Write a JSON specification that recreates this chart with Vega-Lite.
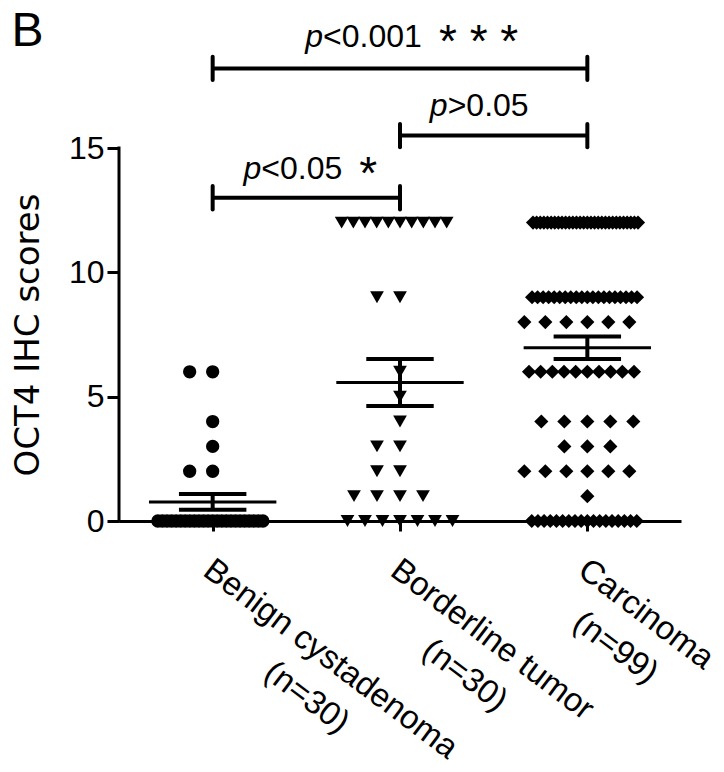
{
  "$schema": "https://vega.github.io/schema/vega-lite/v6.json",
  "width": 562,
  "height": 373,
  "padding": {"left": 11, "top": 8, "right": 0, "bottom": 0},
  "background": "white",
  "config": {
    "view": {"stroke": null},
    "axis": {"domainColor": "black", "tickColor": "black", "labelColor": "black", "titleColor": "black", "labelFont": "Liberation Sans", "titleFont": "Liberation Sans", "grid": false}
  },
  "title": {"text": "B", "anchor": "start", "frame": "bounds", "fontSize": 48, "font": "Liberation Sans", "fontWeight": "normal", "baseline": "top", "offset": -36, "color": "black"},
  "datasets": {
    "brackets": [
      {"id": "a", "from": "Benign", "to": "Carcinoma", "level": 18.2, "pv": "p", "cmp": "<0.001", "stars": "*\u00a0*\u00a0*"},
      {"id": "b", "from": "Borderline", "to": "Carcinoma", "level": 15.5, "pv": "p", "cmp": ">0.05", "stars": ""},
      {"id": "c", "from": "Benign", "to": "Borderline", "level": 13.0, "pv": "p", "cmp": "<0.05", "stars": "*"}
    ],
    "scores": [
      {"group": "Benign", "score": 6}, {"group": "Benign", "score": 6}, {"group": "Benign", "score": 4}, {"group": "Benign", "score": 3},
      {"group": "Benign", "score": 2}, {"group": "Benign", "score": 2},
      {"group": "Benign", "score": 0}, {"group": "Benign", "score": 0}, {"group": "Benign", "score": 0}, {"group": "Benign", "score": 0},
      {"group": "Benign", "score": 0}, {"group": "Benign", "score": 0}, {"group": "Benign", "score": 0}, {"group": "Benign", "score": 0},
      {"group": "Benign", "score": 0}, {"group": "Benign", "score": 0}, {"group": "Benign", "score": 0}, {"group": "Benign", "score": 0},
      {"group": "Benign", "score": 0}, {"group": "Benign", "score": 0}, {"group": "Benign", "score": 0}, {"group": "Benign", "score": 0},
      {"group": "Benign", "score": 0}, {"group": "Benign", "score": 0}, {"group": "Benign", "score": 0}, {"group": "Benign", "score": 0},
      {"group": "Benign", "score": 0}, {"group": "Benign", "score": 0}, {"group": "Benign", "score": 0}, {"group": "Benign", "score": 0},
      {"group": "Borderline", "score": 12}, {"group": "Borderline", "score": 12}, {"group": "Borderline", "score": 12}, {"group": "Borderline", "score": 12},
      {"group": "Borderline", "score": 12}, {"group": "Borderline", "score": 12}, {"group": "Borderline", "score": 12}, {"group": "Borderline", "score": 12},
      {"group": "Borderline", "score": 12}, {"group": "Borderline", "score": 12},
      {"group": "Borderline", "score": 9}, {"group": "Borderline", "score": 9},
      {"group": "Borderline", "score": 6}, {"group": "Borderline", "score": 5}, {"group": "Borderline", "score": 4},
      {"group": "Borderline", "score": 3}, {"group": "Borderline", "score": 3},
      {"group": "Borderline", "score": 2}, {"group": "Borderline", "score": 2},
      {"group": "Borderline", "score": 1}, {"group": "Borderline", "score": 1}, {"group": "Borderline", "score": 1}, {"group": "Borderline", "score": 1},
      {"group": "Borderline", "score": 0}, {"group": "Borderline", "score": 0}, {"group": "Borderline", "score": 0}, {"group": "Borderline", "score": 0},
      {"group": "Borderline", "score": 0}, {"group": "Borderline", "score": 0}, {"group": "Borderline", "score": 0},
      {"group": "Carcinoma", "score": 12}, {"group": "Carcinoma", "score": 12}, {"group": "Carcinoma", "score": 12}, {"group": "Carcinoma", "score": 12},
      {"group": "Carcinoma", "score": 12}, {"group": "Carcinoma", "score": 12}, {"group": "Carcinoma", "score": 12}, {"group": "Carcinoma", "score": 12},
      {"group": "Carcinoma", "score": 12}, {"group": "Carcinoma", "score": 12}, {"group": "Carcinoma", "score": 12}, {"group": "Carcinoma", "score": 12},
      {"group": "Carcinoma", "score": 12}, {"group": "Carcinoma", "score": 12}, {"group": "Carcinoma", "score": 12}, {"group": "Carcinoma", "score": 12},
      {"group": "Carcinoma", "score": 12}, {"group": "Carcinoma", "score": 12}, {"group": "Carcinoma", "score": 12}, {"group": "Carcinoma", "score": 12},
      {"group": "Carcinoma", "score": 12}, {"group": "Carcinoma", "score": 12}, {"group": "Carcinoma", "score": 12}, {"group": "Carcinoma", "score": 12},
      {"group": "Carcinoma", "score": 12}, {"group": "Carcinoma", "score": 12}, {"group": "Carcinoma", "score": 12}, {"group": "Carcinoma", "score": 12},
      {"group": "Carcinoma", "score": 12}, {"group": "Carcinoma", "score": 12},
      {"group": "Carcinoma", "score": 9}, {"group": "Carcinoma", "score": 9}, {"group": "Carcinoma", "score": 9}, {"group": "Carcinoma", "score": 9},
      {"group": "Carcinoma", "score": 9}, {"group": "Carcinoma", "score": 9}, {"group": "Carcinoma", "score": 9}, {"group": "Carcinoma", "score": 9},
      {"group": "Carcinoma", "score": 9}, {"group": "Carcinoma", "score": 9}, {"group": "Carcinoma", "score": 9}, {"group": "Carcinoma", "score": 9},
      {"group": "Carcinoma", "score": 9}, {"group": "Carcinoma", "score": 9}, {"group": "Carcinoma", "score": 9}, {"group": "Carcinoma", "score": 9},
      {"group": "Carcinoma", "score": 9}, {"group": "Carcinoma", "score": 9}, {"group": "Carcinoma", "score": 9}, {"group": "Carcinoma", "score": 9},
      {"group": "Carcinoma", "score": 8}, {"group": "Carcinoma", "score": 8}, {"group": "Carcinoma", "score": 8}, {"group": "Carcinoma", "score": 8},
      {"group": "Carcinoma", "score": 8}, {"group": "Carcinoma", "score": 8},
      {"group": "Carcinoma", "score": 6}, {"group": "Carcinoma", "score": 6}, {"group": "Carcinoma", "score": 6}, {"group": "Carcinoma", "score": 6},
      {"group": "Carcinoma", "score": 6}, {"group": "Carcinoma", "score": 6}, {"group": "Carcinoma", "score": 6}, {"group": "Carcinoma", "score": 6},
      {"group": "Carcinoma", "score": 6}, {"group": "Carcinoma", "score": 6},
      {"group": "Carcinoma", "score": 4}, {"group": "Carcinoma", "score": 4}, {"group": "Carcinoma", "score": 4}, {"group": "Carcinoma", "score": 4},
      {"group": "Carcinoma", "score": 4},
      {"group": "Carcinoma", "score": 3}, {"group": "Carcinoma", "score": 3}, {"group": "Carcinoma", "score": 3},
      {"group": "Carcinoma", "score": 2}, {"group": "Carcinoma", "score": 2}, {"group": "Carcinoma", "score": 2}, {"group": "Carcinoma", "score": 2},
      {"group": "Carcinoma", "score": 2}, {"group": "Carcinoma", "score": 2},
      {"group": "Carcinoma", "score": 1},
      {"group": "Carcinoma", "score": 0}, {"group": "Carcinoma", "score": 0}, {"group": "Carcinoma", "score": 0}, {"group": "Carcinoma", "score": 0},
      {"group": "Carcinoma", "score": 0}, {"group": "Carcinoma", "score": 0}, {"group": "Carcinoma", "score": 0}, {"group": "Carcinoma", "score": 0},
      {"group": "Carcinoma", "score": 0}, {"group": "Carcinoma", "score": 0}, {"group": "Carcinoma", "score": 0}, {"group": "Carcinoma", "score": 0},
      {"group": "Carcinoma", "score": 0}, {"group": "Carcinoma", "score": 0}, {"group": "Carcinoma", "score": 0}, {"group": "Carcinoma", "score": 0},
      {"group": "Carcinoma", "score": 0}, {"group": "Carcinoma", "score": 0}
    ]
  },
  "layer": [
    {
      "data": {"name": "scores"},
      "transform": [
        {"calculate": "indexof(['Benign','Borderline','Carcinoma'], datum.group) + 1", "as": "gi"},
        {"window": [{"op": "row_number", "as": "rn"}], "groupby": ["group", "score"]},
        {"joinaggregate": [{"op": "count", "as": "n"}], "groupby": ["group", "score"]},
        {"calculate": "datum.rn - 1", "as": "k"},
        {"calculate": "datum.k == 0 ? 0 : (datum.k % 2 == 1 ? -(datum.k + 1) / 2 : datum.k / 2)", "as": "slot"},
        {"calculate": "datum.gi + datum.slot * min(23, 105 / max(datum.n - 1, 1)) / 187.33", "as": "xpos"}
      ],
      "mark": {"type": "point", "filled": true, "opacity": 1, "color": "black", "strokeWidth": 0},
      "encoding": {
        "x": {"field": "xpos", "type": "quantitative", "scale": {"domain": [0.5, 3.5], "nice": false, "zero": false},
          "axis": {"title": null, "values": [1, 2, 3], "orient": "bottom", "domainWidth": 3, "tickSize": 10, "tickWidth": 3,
            "labelAngle": 37, "labelAlign": "left", "labelBaseline": "top", "labelFontSize": 33, "labelLineHeight": 45, "labelLimit": 1000,
            "labelPadding": 22, "labelOffset": 4, "labelOverlap": false, "labelBound": false, "labelFlush": false,
            "labelExpr": "datum.value == 1 ? ['Benign cystadenoma', '\u200b\u00a0\u00a0\u00a0\u00a0\u00a0\u00a0\u00a0\u00a0\u00a0\u00a0\u00a0\u00a0(n=30)'] : datum.value == 2 ? ['Borderline tumor', '\u200b\u00a0\u00a0\u00a0\u00a0\u00a0\u00a0\u00a0\u00a0(n=30)'] : datum.value == 3 ? ['Carcinoma', '\u200b\u00a0\u00a0\u00a0(n=99)'] : ''"}},
        "y": {"field": "score", "type": "quantitative", "scale": {"domain": [0, 15], "nice": false},
          "axis": {"title": "OCT4 IHC scores", "titleFont": "DejaVu Sans", "titleFontSize": 34, "titleFontWeight": "normal", "titlePadding": 23,
            "values": [0, 5, 10, 15], "domain": false, "tickSize": 12, "tickWidth": 3, "labelFontSize": 32, "labelPadding": 3}},
        "shape": {"field": "group", "type": "nominal", "scale": {"domain": ["Benign", "Borderline", "Carcinoma"], "range": ["circle", "triangle-down", "diamond"]}, "legend": null},
        "size": {"field": "group", "type": "ordinal", "scale": {"domain": ["Benign", "Borderline", "Carcinoma"], "range": [177, 200, 290]}, "legend": null}
      }
    },
    {
      "data": {"values": [{"axis": "y"}]},
      "mark": {"type": "rule", "strokeWidth": 3, "color": "black", "strokeCap": "square"},
      "encoding": {"x": {"datum": 0.5, "type": "quantitative"}, "y": {"datum": 0, "type": "quantitative"}, "y2": {"datum": 15}}
    },
    {
      "data": {"name": "scores"},
      "transform": [
        {"aggregate": [{"op": "mean", "field": "score", "as": "m"}], "groupby": ["group"]},
        {"calculate": "indexof(['Benign','Borderline','Carcinoma'], datum.group) + 1", "as": "gi"},
        {"calculate": "datum.gi - 0.34", "as": "xa"},
        {"calculate": "datum.gi + 0.34", "as": "xb"}
      ],
      "mark": {"type": "rule", "strokeWidth": 3, "color": "black"},
      "encoding": {"x": {"field": "xa", "type": "quantitative"}, "x2": {"field": "xb"}, "y": {"field": "m", "type": "quantitative"}}
    },
    {
      "data": {"name": "scores"},
      "transform": [
        {"aggregate": [{"op": "mean", "field": "score", "as": "m"}, {"op": "stderr", "field": "score", "as": "se"}], "groupby": ["group"]},
        {"calculate": "indexof(['Benign','Borderline','Carcinoma'], datum.group) + 1", "as": "gi"},
        {"calculate": "datum.m - datum.se", "as": "lo"},
        {"calculate": "datum.m + datum.se", "as": "hi"},
        {"fold": ["lo", "hi"], "as": ["side", "yv"]},
        {"calculate": "datum.gi - 0.18", "as": "xa"},
        {"calculate": "datum.gi + 0.18", "as": "xb"}
      ],
      "mark": {"type": "rule", "strokeWidth": 4, "color": "black"},
      "encoding": {"x": {"field": "xa", "type": "quantitative"}, "x2": {"field": "xb"}, "y": {"field": "yv", "type": "quantitative"}}
    },
    {
      "data": {"name": "scores"},
      "transform": [
        {"aggregate": [{"op": "mean", "field": "score", "as": "m"}, {"op": "stderr", "field": "score", "as": "se"}], "groupby": ["group"]},
        {"calculate": "indexof(['Benign','Borderline','Carcinoma'], datum.group) + 1", "as": "gi"},
        {"calculate": "datum.m - datum.se", "as": "lo"},
        {"calculate": "datum.m + datum.se", "as": "hi"}
      ],
      "mark": {"type": "rule", "strokeWidth": 4, "color": "black"},
      "encoding": {"x": {"field": "gi", "type": "quantitative"}, "y": {"field": "lo", "type": "quantitative"}, "y2": {"field": "hi"}}
    },
    {
      "data": {"name": "brackets"},
      "transform": [
        {"calculate": "indexof(['Benign','Borderline','Carcinoma'], datum.from) + 1", "as": "g1"},
        {"calculate": "indexof(['Benign','Borderline','Carcinoma'], datum.to) + 1", "as": "g2"}
      ],
      "mark": {"type": "rule", "strokeWidth": 4, "color": "black"},
      "encoding": {"x": {"field": "g1", "type": "quantitative"}, "x2": {"field": "g2"}, "y": {"field": "level", "type": "quantitative"}}
    },
    {
      "data": {"name": "brackets"},
      "transform": [
        {"calculate": "indexof(['Benign','Borderline','Carcinoma'], datum.from) + 1", "as": "g1"},
        {"calculate": "indexof(['Benign','Borderline','Carcinoma'], datum.to) + 1", "as": "g2"},
        {"fold": ["g1", "g2"], "as": ["end", "gx"]},
        {"calculate": "datum.level - 0.47", "as": "ylo"},
        {"calculate": "datum.level + 0.47", "as": "yhi"}
      ],
      "mark": {"type": "rule", "strokeWidth": 4, "color": "black", "strokeCap": "round"},
      "encoding": {"x": {"field": "gx", "type": "quantitative"}, "y": {"field": "ylo", "type": "quantitative"}, "y2": {"field": "yhi"}}
    },
    {
      "data": {"name": "brackets"},
      "transform": [
        {"filter": "datum.id == 'a'"},
        {"calculate": "(indexof(['Benign','Borderline','Carcinoma'], datum.from) + indexof(['Benign','Borderline','Carcinoma'], datum.to)) / 2 + 1", "as": "cx"}
      ],
      "mark": {"type": "text", "font": "Liberation Sans", "fontSize": 32, "fontStyle": "italic", "align": "right", "baseline": "alphabetic", "dx": -77, "dy": -21, "color": "black"},
      "encoding": {"x": {"field": "cx", "type": "quantitative"}, "y": {"field": "level", "type": "quantitative"}, "text": {"field": "pv"}}
    },
    {
      "data": {"name": "brackets"},
      "transform": [
        {"filter": "datum.id == 'a'"},
        {"calculate": "(indexof(['Benign','Borderline','Carcinoma'], datum.from) + indexof(['Benign','Borderline','Carcinoma'], datum.to)) / 2 + 1", "as": "cx"}
      ],
      "mark": {"type": "text", "font": "Liberation Sans", "fontSize": 32, "align": "left", "baseline": "alphabetic", "dx": -77, "dy": -21, "color": "black"},
      "encoding": {"x": {"field": "cx", "type": "quantitative"}, "y": {"field": "level", "type": "quantitative"}, "text": {"field": "cmp"}}
    },
    {
      "data": {"name": "brackets"},
      "transform": [
        {"filter": "datum.id == 'a'"},
        {"calculate": "(indexof(['Benign','Borderline','Carcinoma'], datum.from) + indexof(['Benign','Borderline','Carcinoma'], datum.to)) / 2 + 1", "as": "cx"}
      ],
      "mark": {"type": "text", "font": "Liberation Sans", "fontSize": 46, "align": "left", "baseline": "alphabetic", "dx": 39, "dy": -11, "color": "black"},
      "encoding": {"x": {"field": "cx", "type": "quantitative"}, "y": {"field": "level", "type": "quantitative"}, "text": {"field": "stars"}}
    },
    {
      "data": {"name": "brackets"},
      "transform": [
        {"filter": "datum.id == 'b'"},
        {"calculate": "(indexof(['Benign','Borderline','Carcinoma'], datum.from) + indexof(['Benign','Borderline','Carcinoma'], datum.to)) / 2 + 1", "as": "cx"}
      ],
      "mark": {"type": "text", "font": "Liberation Sans", "fontSize": 32, "fontStyle": "italic", "align": "right", "baseline": "alphabetic", "dx": -46, "dy": -20, "color": "black"},
      "encoding": {"x": {"field": "cx", "type": "quantitative"}, "y": {"field": "level", "type": "quantitative"}, "text": {"field": "pv"}}
    },
    {
      "data": {"name": "brackets"},
      "transform": [
        {"filter": "datum.id == 'b'"},
        {"calculate": "(indexof(['Benign','Borderline','Carcinoma'], datum.from) + indexof(['Benign','Borderline','Carcinoma'], datum.to)) / 2 + 1", "as": "cx"}
      ],
      "mark": {"type": "text", "font": "Liberation Sans", "fontSize": 32, "align": "left", "baseline": "alphabetic", "dx": -46, "dy": -20, "color": "black"},
      "encoding": {"x": {"field": "cx", "type": "quantitative"}, "y": {"field": "level", "type": "quantitative"}, "text": {"field": "cmp"}}
    },
    {
      "data": {"name": "brackets"},
      "transform": [
        {"filter": "datum.id == 'c'"},
        {"calculate": "(indexof(['Benign','Borderline','Carcinoma'], datum.from) + indexof(['Benign','Borderline','Carcinoma'], datum.to)) / 2 + 1", "as": "cx"}
      ],
      "mark": {"type": "text", "font": "Liberation Sans", "fontSize": 32, "fontStyle": "italic", "align": "right", "baseline": "alphabetic", "dx": -45, "dy": -19, "color": "black"},
      "encoding": {"x": {"field": "cx", "type": "quantitative"}, "y": {"field": "level", "type": "quantitative"}, "text": {"field": "pv"}}
    },
    {
      "data": {"name": "brackets"},
      "transform": [
        {"filter": "datum.id == 'c'"},
        {"calculate": "(indexof(['Benign','Borderline','Carcinoma'], datum.from) + indexof(['Benign','Borderline','Carcinoma'], datum.to)) / 2 + 1", "as": "cx"}
      ],
      "mark": {"type": "text", "font": "Liberation Sans", "fontSize": 32, "align": "left", "baseline": "alphabetic", "dx": -45, "dy": -19, "color": "black"},
      "encoding": {"x": {"field": "cx", "type": "quantitative"}, "y": {"field": "level", "type": "quantitative"}, "text": {"field": "cmp"}}
    },
    {
      "data": {"name": "brackets"},
      "transform": [
        {"filter": "datum.id == 'c'"},
        {"calculate": "(indexof(['Benign','Borderline','Carcinoma'], datum.from) + indexof(['Benign','Borderline','Carcinoma'], datum.to)) / 2 + 1", "as": "cx"}
      ],
      "mark": {"type": "text", "font": "Liberation Sans", "fontSize": 46, "align": "left", "baseline": "alphabetic", "dx": 53, "dy": -9, "color": "black"},
      "encoding": {"x": {"field": "cx", "type": "quantitative"}, "y": {"field": "level", "type": "quantitative"}, "text": {"field": "stars"}}
    }
  ]
}
